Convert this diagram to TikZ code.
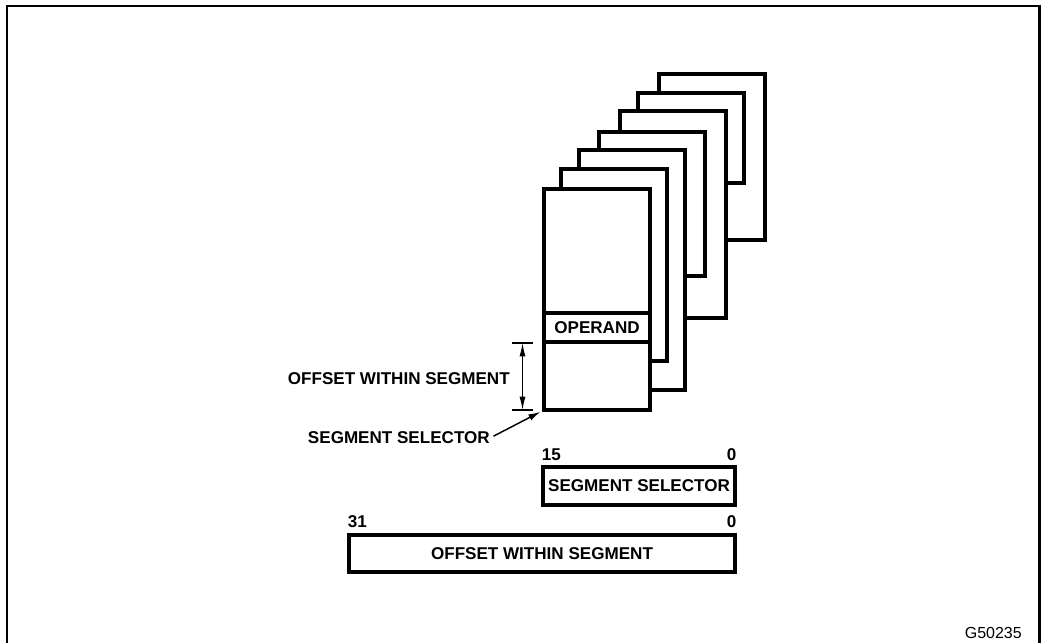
\documentclass[tikz,border=0pt]{standalone}
\usepackage{fontspec}
\setmainfont{Liberation Sans}
\usetikzlibrary{arrows.meta}
\begin{document}
\begin{tikzpicture}[
    x=0.75pt, y=-0.75pt,
    page/.style={rectangle, draw, line width=3pt, fill=white, outer sep=0pt, anchor=north west, minimum width=79.5pt},
    field/.style={rectangle, draw, line width=3pt, fill=white, outer sep=0pt, inner sep=0pt, font=\bfseries\fontsize{12.8}{14}\selectfont},
    txt/.style={inner sep=0pt, font=\bfseries\fontsize{12.8}{14}\selectfont},
    dim/.style={<->, >={Latex[length=10pt,width=4.5pt]}, line width=0.8pt},
    leader/.style={->, >={Latex[length=9pt,width=5pt]}, line width=1.1pt}
]
    \useasboundingbox (0,0) rectangle (1041,643);
    % Frame
    \draw[line width=1.8pt] (7,643) -- (7,6) -- (1039.5,6) -- (1039.5,643);

    % Segments, back to front
    \node[page, minimum height=124.5pt] (p7) at (659,74) {};
    \node[page, minimum height=67.5pt] (p6) at (638,93) {};
    \node[page, minimum height=155.25pt] (p5) at (620,111) {};
    \node[page, minimum height=108pt] (p4) at (599,132) {};
    \node[page, minimum height=180pt] (p3) at (579,150) {};
    \node[page, minimum height=144pt] (p2) at (561,169) {};
    \node[page, minimum height=165.75pt] (p1) at (544,189) {};
    \node[field, minimum width=79.5pt, minimum height=21.75pt] (operand) at (597,327.5) {OPERAND};

    % Offset dimension
    \coordinate (dimtop) at (522.5,343);
    \coordinate (dimbot) at (522.5,410);
    \draw[line width=0.8pt] (512,343) -- (533,343);
    \draw[line width=0.8pt] (512,410) -- (533,410);
    \draw[dim] (dimtop) -- (dimbot);
    \node[txt, anchor=east] (offlbl) at (510,379) {OFFSET WITHIN SEGMENT};
    \node[txt, anchor=east] (sellbl) at (490,438) {SEGMENT SELECTOR};
    \draw[leader, shorten <=3pt, shorten >=3pt] (sellbl.east) -- (p1.south west);

    % Address fields
    \node[field, minimum width=144pt, minimum height=28.5pt] (selector) at (639,486) {SEGMENT SELECTOR};
    \node[txt, anchor=west] (sel15) at (541.5,455) {15};
    \node[txt, anchor=east] (sel0) at (736.5,455) {0};
    \node[field, minimum width=289.5pt, minimum height=27.75pt] (offset) at (542,553.5) {OFFSET WITHIN SEGMENT};
    \node[txt, anchor=west] (off31) at (347.5,522) {31};
    \node[txt, anchor=east] (off0) at (736.5,522) {0};

    \node[inner sep=0pt, font=\fontsize{12}{14}\selectfont, anchor=east] (figid) at (1022,632.5) {G50235};
\end{tikzpicture}
\end{document}
